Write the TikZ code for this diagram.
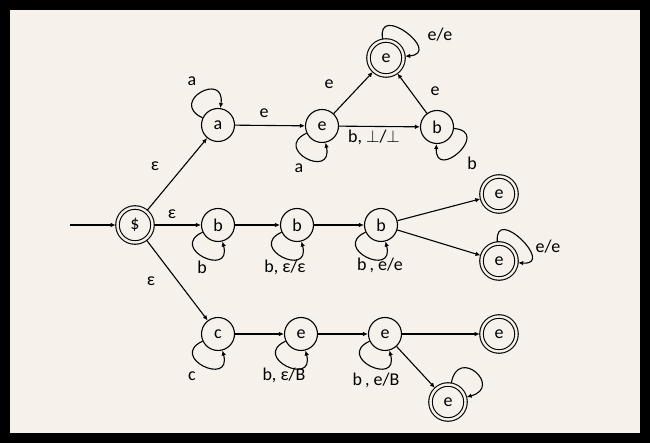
\documentclass[tikz,border=0pt]{standalone}
\usepackage{fontspec}
\setmainfont{Carlito}
\usetikzlibrary{arrows.meta}
\definecolor{bg}{HTML}{F6F2EB}
\begin{document}
\begin{tikzpicture}[x=1pt,y=1pt,line width=1.1pt,
  st/.style={circle,draw,minimum size=33pt,inner sep=0pt,font=\fontsize{18}{20}\selectfont},
  acc/.style={circle,draw,double=bg,double distance=2.4pt,minimum size=35pt,inner sep=0pt,outer sep=1.8pt,font=\fontsize{18}{20}\selectfont},
  lab/.style={font=\fontsize{18}{20}\selectfont,inner sep=0pt},
  tr/.style={-{Latex[length=5pt,width=4.5pt]}}]
% frame
\fill[black] (0,0) rectangle (650,443);
\fill[bg] (10,10) rectangle (640,433);
\useasboundingbox (0,0) rectangle (650,443);
% states
\node[acc] (S) at (135,218) {\$};
\coordinate (start) at (70,218);
\node[st] (a) at (218,318) {a};
\node[st] (e1) at (322,317) {e};
\node[st] (bT) at (437,316) {b};
\node[acc] (F1) at (386,385) {e};
\node[st] (b1) at (218,218) {b};
\node[st] (b2) at (297,218) {b};
\node[st] (b3) at (381,218) {b};
\node[acc] (F2) at (499,249) {e};
\node[acc] (F3) at (499,182) {e};
\node[st] (c) at (218,109) {c};
\node[st] (e2) at (301,109) {e};
\node[st] (e3) at (385,109) {e};
\node[acc] (F4) at (499,109) {e};
\node[acc] (F5) at (448,41) {e};
% transitions
\draw[tr] (start) -- (S);
\draw[tr] (S) -- (a);
\draw[tr] (S) -- (b1);
\draw[tr] (S) -- (c);
\draw[tr] (a) -- (e1);
\draw[tr] (e1) -- (bT);
\draw[tr] (e1) -- (F1);
\draw[tr] (bT) -- (F1);
\draw[tr] (b1) -- (b2);
\draw[tr] (b2) -- (b3);
\draw[tr] (b3) -- (F2);
\draw[tr] (b3) -- (F3);
\draw[tr] (c) -- (e2);
\draw[tr] (e2) -- (e3);
\draw[tr] (e3) -- (F4);
\draw[tr] (e3) -- (F5);
% loops
\draw[tr] (a.155) .. controls +(155:38pt) and +(82:38pt) .. (a.82);
\draw[tr] (e1.205) .. controls +(205:38pt) and +(-78:38pt) .. (e1.-78);
\draw[tr] (bT.-5) .. controls +(-5:38pt) and +(-92:38pt) .. (bT.-92);
\draw[tr] (F1.100) .. controls +(100:38pt) and +(5:38pt) .. (F1.5);
\draw[tr] (b1.205) .. controls +(205:38pt) and +(-75:38pt) .. (b1.-75);
\draw[tr] (b2.205) .. controls +(205:38pt) and +(-75:38pt) .. (b2.-75);
\draw[tr] (b3.205) .. controls +(205:38pt) and +(-75:38pt) .. (b3.-75);
\draw[tr] (F3.95) .. controls +(95:38pt) and +(-5:38pt) .. (F3.-5);
\draw[tr] (c.205) .. controls +(205:38pt) and +(-75:38pt) .. (c.-75);
\draw[tr] (e2.205) .. controls +(205:38pt) and +(-75:38pt) .. (e2.-75);
\draw[tr] (e3.205) .. controls +(205:38pt) and +(-75:38pt) .. (e3.-75);
\draw[tr] (F5.80) .. controls +(80:38pt) and +(15:38pt) .. (F5.15);
% labels
\node[lab] (l1) at (192,362) {a};
\node[lab] (l2) at (264,330) {e};
\node[lab] (l3) at (299,275) {a};
\node[lab] (l4) at (329,359) {e};
\node[lab] (l5) at (374,306) {b, $\perp$/$\perp$};
\node[lab] (l6) at (435,352) {e};
\node[lab] (l7) at (440,408) {e/e};
\node[lab] (l8) at (472,280) {b};
\node[lab] (l9) at (155,277) {ε};
\node[lab] (l10) at (172,229) {ε};
\node[lab] (l11) at (151,162) {ε};
\node[lab] (l12) at (202,176) {b};
\node[lab] (l13) at (285,176) {b, ε/ε};
\node[lab] (l14) at (380,178) {b\,, e/e};
\node[lab] (l15) at (548,196) {e/e};
\node[lab] (l16) at (192,67) {c};
\node[lab] (l17) at (284,68) {b, ε/B};
\node[lab] (l18) at (376,63) {b\,, e/B};
\end{tikzpicture}
\end{document}
